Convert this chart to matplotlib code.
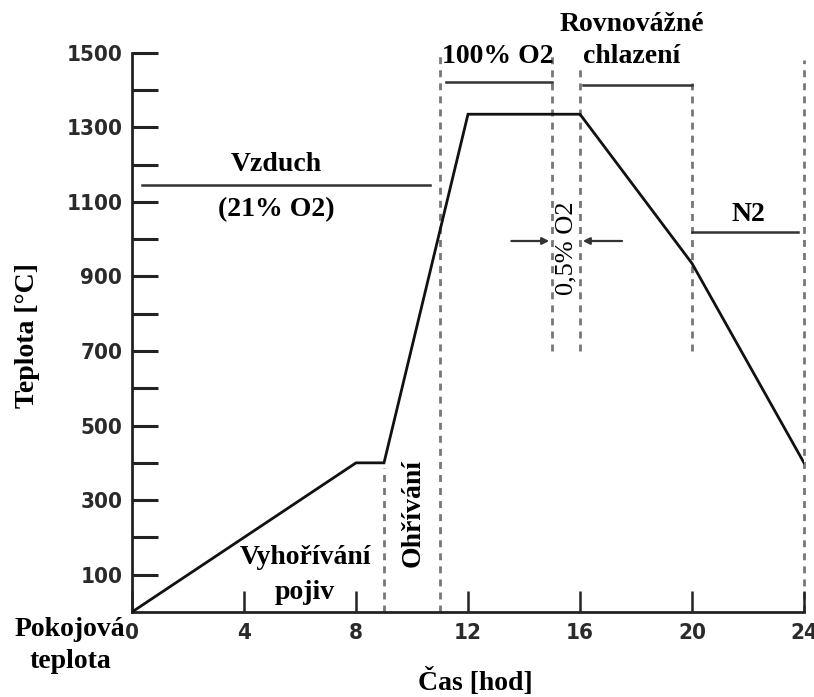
import matplotlib
matplotlib.use("Agg")
import matplotlib.pyplot as plt
from matplotlib.ticker import FixedLocator

# ---- data ----
time_h = [0, 8, 9, 12, 16, 20, 24]
temp_c = [0, 400, 400, 1335, 1335, 935, 400]

x_ticks = [0, 4, 8, 12, 16, 20, 24]
y_major = [100, 300, 500, 700, 900, 1100, 1300, 1500]
y_minor = [200, 400, 600, 800, 1000, 1200, 1400]

# dashed phase boundaries: (time, y_from, y_to)
boundary_x = [9, 11, 15, 16, 20, 24]
boundary_lo = [0, 0, 700, 700, 700, 0]
boundary_hi = [385, 1490, 1490, 1470, 1420, 1480]

# atmosphere bars: (x_start, x_end, y)
bar_x0 = [0.35, 11.2, 16.1, 20.0]
bar_x1 = [10.65, 15.0, 20.0, 23.8]
bar_y = [1145, 1422, 1414, 1019]

SERIF = ["Liberation Serif", "DejaVu Serif"]
SANS = "DejaVu Sans"

fig = plt.figure(figsize=(8.14, 6.97), dpi=100)
ax = fig.add_axes([132/814, 1 - 612/697, (804-132)/814, (612-52.7)/697])
ax.set_xlim(0, 24)
ax.set_ylim(0, 1500)

for s in ["top", "right"]:
    ax.spines[s].set_visible(False)
for s in ["left", "bottom"]:
    ax.spines[s].set_linewidth(2.0)
    ax.spines[s].set_color("#222222")

# boundaries
for bx, lo, hi in zip(boundary_x, boundary_lo, boundary_hi):
    ax.plot([bx, bx], [lo, hi], color="#777777", lw=2.0,
            linestyle=(0, (2.5, 2.2)), clip_on=False, zorder=1)

# atmosphere bars
for x0, x1, yy in zip(bar_x0, bar_x1, bar_y):
    ax.plot([x0, x1], [yy, yy], color="#333333", lw=1.8, clip_on=False)

# curve
ax.plot(time_h, temp_c, color="#111111", lw=2.0, solid_joinstyle="miter", zorder=3)

# arrows for 0,5% O2
ax.annotate("", xy=(15.0, 995), xytext=(13.45, 995),
            arrowprops=dict(arrowstyle="-|>", color="#333333", lw=1.6, mutation_scale=10))
ax.annotate("", xy=(16.0, 995), xytext=(17.6, 995),
            arrowprops=dict(arrowstyle="-|>", color="#333333", lw=1.6, mutation_scale=10))

# ticks
ax.xaxis.set_major_locator(FixedLocator(x_ticks))
ax.set_xticklabels([str(v) for v in x_ticks])
ax.yaxis.set_major_locator(FixedLocator(y_major))
ax.yaxis.set_minor_locator(FixedLocator(y_minor))
ax.set_yticklabels([str(v) for v in y_major])
ax.tick_params(axis="y", which="both", direction="in", length=19, width=2.2,
               color="#222222", pad=7, labelsize=16, labelcolor="#2a2a2a")
ax.tick_params(axis="x", which="major", direction="in", length=15, width=1.8,
               color="#222222", pad=8, labelsize=16, labelcolor="#2a2a2a")
for lab in ax.get_xticklabels() + ax.get_yticklabels():
    lab.set_fontfamily(SANS)
    lab.set_fontstretch("condensed")
    lab.set_fontweight("bold")

# axis labels
fig.text(28/814, 1 - 336/697, "Teplota [°C]", rotation=90, ha="center", va="center",
         fontsize=20, fontweight="bold", family=SERIF)
fig.text(475/814, 1 - 682/697, "Čas [hod]", ha="center", va="center",
         fontsize=20, fontweight="bold", family=SERIF)
fig.text(70/814, 1 - 630/697, "Pokojová", ha="center", va="center",
         fontsize=20, fontweight="bold", family=SERIF)
fig.text(70/814, 1 - 662/697, "teplota", ha="center", va="center",
         fontsize=20, fontweight="bold", family=SERIF)

tb = dict(fontsize=20, fontweight="bold", family=SERIF, ha="center", va="center", clip_on=False)
ax.text(5.15, 1200, "Vzduch", **tb)
ax.text(5.15, 1078, "(21% O2)", **tb)
ax.text(13.05, 1490, "100% O2", **tb)
ax.text(17.85, 1575, "Rovnovážné", **tb)
ax.text(17.85, 1490, "chlazení", **tb)
ax.text(22.0, 1067, "N2", **tb)
ax.text(6.2, 145, "Vyhořívání", **tb)
ax.text(6.15, 52, "pojiv", **tb)
ax.text(10.05, 265, "Ohřívání", rotation=90, **tb)
ax.text(15.5, 975, "0,5% O2", rotation=90, fontsize=19, family=SERIF,
        ha="center", va="center")

fig.savefig("out.png", dpi=100)
